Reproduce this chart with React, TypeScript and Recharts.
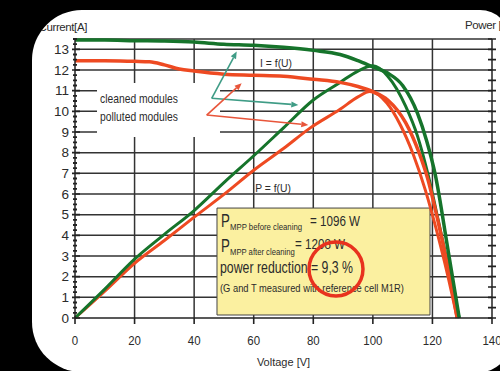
import React from "react";
import {
  CartesianGrid,
  Line,
  LineChart,
  ReferenceArea,
  ReferenceDot,
  ReferenceLine,
  XAxis,
  YAxis,
} from "recharts";

// I = f(U) and P = f(U)
const cleanedU = [0, 10, 20, 30, 40, 50, 60, 70, 80, 89, 95, 100, 105, 110, 115, 118, 121, 125, 129];
const cleanedI = [13.45, 13.45, 13.42, 13.4, 13.35, 13.25, 13.2, 13.1, 12.95, 12.75, 12.45, 12.15, 11.85, 11.25, 9.9, 8.6, 6.9, 3.5, 0];
const cleanedPU = [0, 10, 20, 30, 40, 50, 60, 70, 80, 89, 95, 100, 105, 111, 115, 118.6, 122, 125, 127, 129];
const cleanedP = [0, 140, 285, 405, 520, 655, 785, 920, 1055, 1140, 1195, 1220, 1170, 1025, 880, 690, 470, 270, 130, 0];

const pollutedU = [0, 10, 20, 25, 30, 35, 40, 50, 60, 70, 80, 89, 95, 100, 105, 111, 115.5, 118.3, 122, 125, 128.3];
const pollutedI = [12.45, 12.45, 12.42, 12.4, 12.25, 12.05, 11.95, 11.8, 11.75, 11.7, 11.55, 11.4, 11.2, 10.95, 10.55, 9.45, 8.0, 6.8, 4.6, 2.6, 0];
const pollutedPU = [0, 10, 20, 30, 40, 50, 60, 70, 79, 89, 95, 99, 104.7, 109.2, 113.6, 117.6, 122, 125, 128.3];
const pollutedP = [0, 130, 265, 375, 488, 598, 715, 820, 920, 1010, 1070, 1096, 1040, 935, 790, 620, 390, 215, 0];

const voltageTicks = [0, 20, 40, 60, 80, 100, 120, 140];
const gridVoltages = [20, 40, 60, 80, 100, 120];
const currentLabels = [0, 1, 2, 3, 4, 5, 6, 7, 8, 9, 10, 11, 12, 13, 13.5];
const currentTicks = Array.from({ length: 55 }, (_, i) => i * 0.25);
const powerTicks = Array.from({ length: 28 }, (_, i) => i * 50);

const mppBefore = "1096 W";
const mppAfter = "1208 W";
const reduction = "9,3 %";

// annotation arrows (from legend text to the curves), in U / I units
const cleanedArrows = [
  [{ x: 45.89, y: 10.63 }, { x: 54.29, y: 12.89 }],
  [{ x: 45.89, y: 10.63 }, { x: 74.97, y: 10.31 }],
];
const pollutedArrows = [
  [{ x: 44.21, y: 9.82 }, { x: 55.96, y: 11.36 }],
  [{ x: 44.21, y: 9.82 }, { x: 78.32, y: 9.34 }],
];

const GREEN = "#16742b";
const RED = "#ee4a22";
const TEAL = "#3f9c86";
const ARROW_RED = "#e8553a";
const AXIS = "#222";
const INK = "#2b2b2b";
const FONT = '"Liberation Sans", Arial, sans-serif';

const rows = (u: number[], v: number[]) => u.map((x, i) => ({ u: x, v: v[i] }));

const CurrentTick = (props: any) => {
  const { x, y, payload } = props;
  const v = payload.value as number;
  const major = Number.isInteger(v);
  return (
    <g>
      {major ? (
        <line x1={x - 3} x2={x + 5} y1={y} y2={y} stroke={AXIS} strokeWidth={1.6} />
      ) : (
        <line x1={x - 2} x2={x + 2} y1={y} y2={y} stroke={AXIS} strokeWidth={1.8} />
      )}
      {major && (
        <text x={x - 6} y={y + 4.8} textAnchor="end" fontSize={13.5} fill={INK}>
          {v}
        </text>
      )}
    </g>
  );
};

const VoltageTick = (props: any) => {
  const { x, y, payload } = props;
  return (
    <g>
      <line x1={x} x2={x} y1={y} y2={y + 6} stroke={AXIS} strokeWidth={1.6} />
      <text
        transform={`translate(${x},${y + 27}) scale(0.85,1)`}
        textAnchor="middle"
        fontSize={13.5}
        fill={INK}
      >
        {payload.value}
      </text>
    </g>
  );
};

const PowerTick = (props: any) => {
  const { x, y } = props;
  return <line x1={x - 4} x2={x + 4} y1={y} y2={y} stroke={AXIS} strokeWidth={1.6} />;
};

const arrowShape = (color: string) => (p: any) => {
  const { x1, y1, x2, y2 } = p;
  const a = Math.atan2(y2 - y1, x2 - x1);
  const L = 7;
  const W = 3;
  const bx = x2 - L * Math.cos(a);
  const by = y2 - L * Math.sin(a);
  const pts = `${x2},${y2} ${bx + W * Math.sin(a)},${by - W * Math.cos(a)} ${bx - W * Math.sin(a)},${by + W * Math.cos(a)}`;
  return (
    <g>
      <line x1={x1} y1={y1} x2={bx} y2={by} stroke={color} strokeWidth={1.6} />
      <polygon points={pts} fill={color} />
    </g>
  );
};

const note =
  (text: string, anchor: "start" | "middle", fs: number, sx: number) => (props: any) => {
    const vb = props.viewBox;
    const cx = vb.x + vb.width / 2;
    const cy = vb.y + vb.height / 2;
    return (
      <text
        transform={`translate(${cx},${cy + fs * 0.35}) scale(${sx},1)`}
        textAnchor={anchor}
        fontSize={fs}
        fill={INK}
      >
        {text}
      </text>
    );
  };

const MppBox = (props: any) => {
  const { x, y } = props.viewBox;
  const t = (dx: number, dy: number, sx: number, fs: number, s: string) => (
    <text transform={`translate(${x + dx},${y + dy}) scale(${sx},1)`} fontSize={fs} fill={INK}>
      {s}
    </text>
  );
  return (
    <g>
      {t(4, 19, 0.7, 19, "P")}
      {t(13, 21.5, 0.82, 9.5, "MPP before cleaning")}
      {t(93, 18, 0.75, 15.5, "= " + mppBefore)}
      {t(4, 44, 0.7, 19, "P")}
      {t(13, 47, 0.81, 9.5, "MPP after cleaning")}
      {t(78, 41, 0.75, 15.5, "= " + mppAfter)}
      {t(3, 65, 0.77, 16, "power reduction = " + reduction)}
      {t(3, 84, 0.85, 11, "(G and T measured with reference cell M1R)")}
    </g>
  );
};

export default function App() {
  return (
    <div
      style={{
        width: 500,
        height: 371,
        background: "#000",
        position: "relative",
        overflow: "hidden",
        fontFamily: FONT,
      }}
    >
      <style>{"body{margin:0}"}</style>
      <div
        style={{
          position: "absolute",
          left: 32,
          top: 10,
          width: 478,
          height: 362,
          background: "#fff",
          borderRadius: "50px 30px 30px 50px",
          overflow: "hidden",
        }}
      >
        <div style={{ position: "absolute", left: -32, top: -10, width: 500, height: 371 }}>
          <LineChart width={500} height={371} margin={{ top: 39, right: 0, bottom: 0, left: 0 }}>
            <CartesianGrid
              yAxisId="left"
              horizontalValues={currentLabels.slice(1)}
              verticalValues={gridVoltages}
              stroke="#333"
              strokeWidth={1.5}
            />
            <XAxis
              type="number"
              dataKey="u"
              domain={[0, 140]}
              ticks={voltageTicks}
              interval={0}
              tickSize={0}
              tickMargin={0}
              tick={<VoltageTick />}
              height={53}
              stroke={AXIS}
              strokeWidth={1.5}
              label={{
                value: "Voltage [V]",
                position: "insideBottom",
                offset: 5,
                fontSize: 11,
                fill: INK,
              }}
            />
            <YAxis
              yAxisId="left"
              type="number"
              domain={[0, 13.5]}
              ticks={currentTicks}
              interval={0}
              tickSize={0}
              tickMargin={0}
              tick={<CurrentTick />}
              width={75}
              stroke={AXIS}
              strokeWidth={1.5}
            />
            <YAxis
              yAxisId="right"
              orientation="right"
              type="number"
              domain={[0, 1350]}
              ticks={powerTicks}
              interval={0}
              tickSize={0}
              tickMargin={0}
              tick={<PowerTick />}
              width={8}
              stroke={AXIS}
              strokeWidth={1.5}
            />

            <ReferenceArea
              yAxisId="left"
              x1={7.39}
              x2={48.68}
              y1={8.76}
              y2={11.37}
              fill="#fff"
              fillOpacity={1}
              stroke="none"
            />
            <ReferenceArea
              yAxisId="left"
              x1={47.67}
              x2={119.18}
              y1={0.145}
              y2={5.32}
              fill="#fbf0a0"
              fillOpacity={1}
              stroke="#444"
              strokeWidth={1}
              label={MppBox}
            />

            <Line yAxisId="right" data={rows(pollutedPU, pollutedP)} dataKey="v" type="monotone" stroke={RED} strokeWidth={3} dot={false} isAnimationActive={false} />
            <Line yAxisId="right" data={rows(cleanedPU, cleanedP)} dataKey="v" type="monotone" stroke={GREEN} strokeWidth={3} dot={false} isAnimationActive={false} />
            <Line yAxisId="left" data={rows(pollutedU, pollutedI)} dataKey="v" type="monotone" stroke={RED} strokeWidth={3.5} dot={false} isAnimationActive={false} />
            <Line yAxisId="left" data={rows(cleanedU, cleanedI)} dataKey="v" type="monotone" stroke={GREEN} strokeWidth={3.5} dot={false} isAnimationActive={false} />

            {cleanedArrows.map((seg, i) => (
              <ReferenceLine key={`c${i}`} yAxisId="left" segment={seg} shape={arrowShape(TEAL)} />
            ))}
            {pollutedArrows.map((seg, i) => (
              <ReferenceLine key={`p${i}`} yAxisId="left" segment={seg} shape={arrowShape(ARROW_RED)} />
            ))}

            <ReferenceDot yAxisId="left" x={8.39} y={10.6} r={1} fill="none" stroke="none" label={note("cleaned modules", "start", 12, 0.86)} />
            <ReferenceDot yAxisId="left" x={8.39} y={9.72} r={1} fill="none" stroke="none" label={note("polluted modules", "start", 12, 0.86)} />
            <ReferenceDot yAxisId="left" x={67.5} y={12.36} r={1} fill="none" stroke="none" label={note("I = f(U)", "middle", 11.5, 0.9)} />
            <ReferenceDot yAxisId="left" x={66.5} y={6.27} r={1} fill="none" stroke="none" label={note("P = f(U)", "middle", 11.5, 0.9)} />

            <ReferenceDot yAxisId="left" x={87.62} y={2.37} r={27} fill="none" stroke="#e8321e" strokeWidth={3.5} />
          </LineChart>
          <div
            style={{
              position: "absolute",
              right: 413,
              top: 20,
              fontSize: 11.5,
              lineHeight: "14px",
              color: INK,
              whiteSpace: "nowrap",
              letterSpacing: -0.4,
            }}
          >
            Current[A]
          </div>
          <div
            style={{
              position: "absolute",
              left: 465,
              top: 18,
              fontSize: 11.5,
              lineHeight: "14px",
              color: INK,
              whiteSpace: "nowrap",
              letterSpacing: -0.4,
            }}
          >
            Power [W]
          </div>
        </div>
      </div>
    </div>
  );
}
